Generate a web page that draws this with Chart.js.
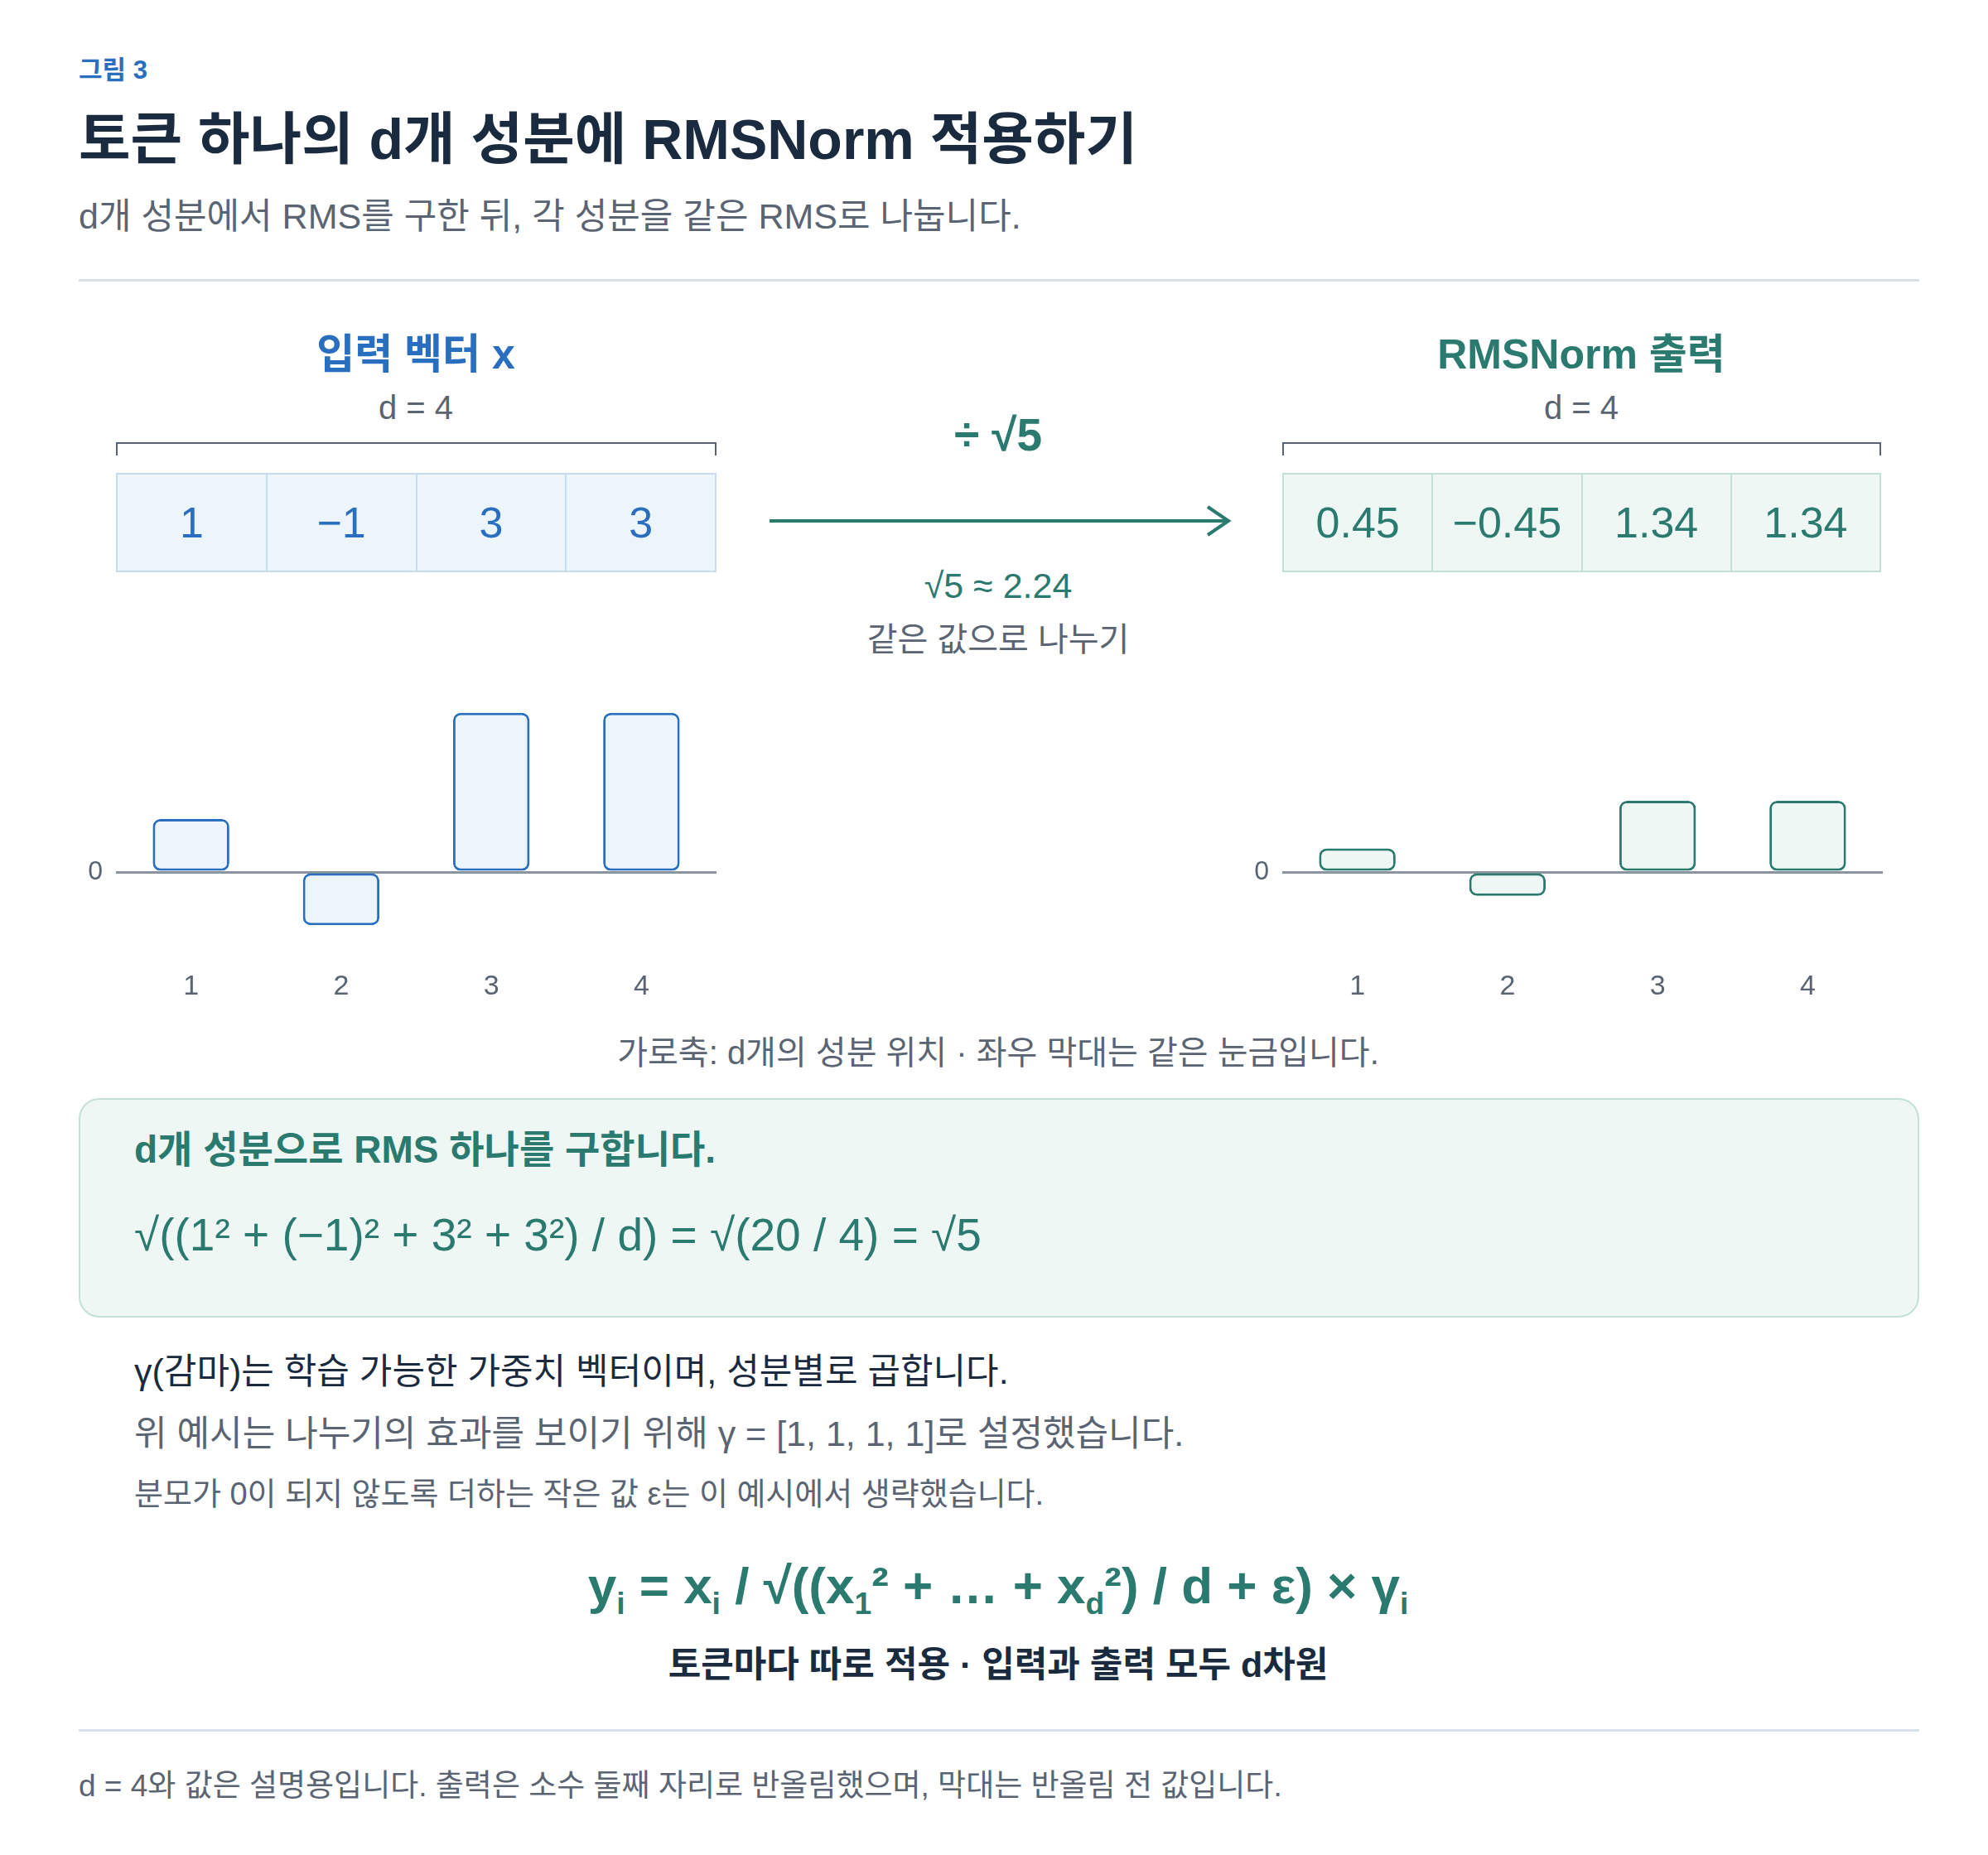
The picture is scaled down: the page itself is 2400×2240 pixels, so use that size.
<!DOCTYPE html>
<html lang="ko">
<head>
<meta charset="utf-8">
<script src="https://cdn.jsdelivr.net/npm/chart.js@4/dist/chart.umd.min.js"></script>
<style>
  body { margin: 0; background: #fff; font-family: "Liberation Sans", "Noto Sans CJK KR", sans-serif; }
  #page { position: relative; width: 2400px; height: 2240px; }
  .t { position: absolute; white-space: nowrap; line-height: 1.2; }
  .c { text-align: center; width: 1000px; }
  .hr { position: absolute; left: 95px; width: 2222px; height: 3px; background: #d8e1ea; }
  .bracket { position: absolute; height: 14px; border: 2px solid #5a6473; border-bottom: none; }
  .cells { position: absolute; height: 120px; display: flex; }
  .cells div { flex: 1; display: flex; align-items: center; justify-content: center; font-size: 52px; }
  .chartBox { position: absolute; top: 800px; width: 803px; height: 426px; }
  sub { font-size: 0.6em; vertical-align: -0.35em; }
</style>
</head>
<body>
<div id="page">
  <div class="t" style="left:95px;top:66px;font-size:31px;font-weight:bold;color:#2a6fbf">그림 3</div>
  <div class="t" style="left:95px;top:128px;font-size:68px;font-weight:bold;color:#1a2b40">토큰 하나의 d개 성분에 RMSNorm 적용하기</div>
  <div class="t" style="left:95px;top:236px;font-size:43px;color:#5a6473">d개 성분에서 RMS를 구한 뒤, 각 성분을 같은 RMS로 나눕니다.</div>
  <div class="hr" style="top:337px"></div>

  <div class="t c" style="left:2px;top:398px;font-size:50px;font-weight:bold;color:#2a6fbf">입력 벡터 x</div>
  <div class="t c" style="left:2px;top:468px;font-size:40px;color:#5a6473">d = 4</div>
  <div class="bracket" style="left:140px;top:534px;width:721px"></div>
  <div class="cells" id="inCells" style="left:140px;top:571px;width:725px"></div>

  <div class="t c" style="left:1409px;top:398px;font-size:50px;font-weight:bold;color:#2a7a6f">RMSNorm 출력</div>
  <div class="t c" style="left:1409px;top:468px;font-size:40px;color:#5a6473">d = 4</div>
  <div class="bracket" style="left:1548px;top:534px;width:719px"></div>
  <div class="cells" id="outCells" style="left:1548px;top:571px;width:723px"></div>

  <div class="t c" style="left:705px;top:492px;font-size:55px;font-weight:bold;color:#2a7a6f">÷ √5</div>
  <svg style="position:absolute;left:920px;top:600px" width="580" height="60">
    <line x1="9" y1="29" x2="562" y2="29" stroke="#2a7a6f" stroke-width="4"/>
    <polyline points="538,12 563,29 538,46" fill="none" stroke="#2a7a6f" stroke-width="4"/>
  </svg>
  <div class="t c" style="left:705px;top:682px;font-size:43px;color:#2a7a6f">√5 ≈ 2.24</div>
  <div class="t c" style="left:705px;top:748px;font-size:40px;color:#5a6473">같은 값으로 나누기</div>

  <div class="chartBox" style="left:62px"><canvas id="inChart"></canvas></div>
  <div class="chartBox" style="left:1470px"><canvas id="outChart"></canvas></div>

  <div class="t c" style="left:705px;top:1247px;font-size:40px;color:#5a6473">가로축: d개의 성분 위치 · 좌우 막대는 같은 눈금입니다.</div>

  <div style="position:absolute;left:95px;top:1326px;width:2218px;height:261px;background:#eef7f4;border:2px solid #c3e0d8;border-radius:25px"></div>
  <div class="t" style="left:162px;top:1361px;font-size:46px;font-weight:bold;color:#2a7a6f">d개 성분으로 RMS 하나를 구합니다.</div>
  <div class="t" style="left:162px;top:1458px;font-size:55px;color:#2a7a6f">√((1² + (−1)² + 3² + 3²) / d) = √(20 / 4) = √5</div>

  <div class="t" style="left:162px;top:1631px;font-size:43px;color:#1a2b40">γ(감마)는 학습 가능한 가중치 벡터이며, 성분별로 곱합니다.</div>
  <div class="t" style="left:162px;top:1706px;font-size:43px;color:#5a6473">위 예시는 나누기의 효과를 보이기 위해 γ = [1, 1, 1, 1]로 설정했습니다.</div>
  <div class="t" style="left:162px;top:1782px;font-size:38px;color:#5a6473">분모가 0이 되지 않도록 더하는 작은 값 ε는 이 예시에서 생략했습니다.</div>

  <div class="t c" style="left:705px;top:1878px;font-size:62px;font-weight:bold;color:#2a7a6f">y<sub>i</sub> = x<sub>i</sub> / √((x<sub>1</sub>² + … + x<sub>d</sub>²) / d + ε) × γ<sub>i</sub></div>
  <div class="t c" style="left:705px;top:1985px;font-size:43px;font-weight:bold;color:#1a2b40">토큰마다 따로 적용 · 입력과 출력 모두 d차원</div>
  <div class="hr" style="top:2088px"></div>
  <div class="t" style="left:95px;top:2135px;font-size:37px;color:#5a6473">d = 4와 값은 설명용입니다. 출력은 소수 둘째 자리로 반올림했으며, 막대는 반올림 전 값입니다.</div>
</div>

<script>
const positions = ["1", "2", "3", "4"];
const inputValues = [1, -1, 3, 3];
const outputValues = [0.447, -0.447, 1.342, 1.342];
const inputLabels = ["1", "−1", "3", "3"];
const outputLabels = ["0.45", "−0.45", "1.34", "1.34"];

function fillCells(id, labels, bg, border, color) {
  const box = document.getElementById(id);
  labels.forEach((txt, i) => {
    const d = document.createElement("div");
    d.textContent = txt;
    d.style.background = bg;
    d.style.color = color;
    d.style.border = "2px solid " + border;
    if (i > 0) d.style.borderLeft = "none";
    box.appendChild(d);
  });
}
fillCells("inCells", inputLabels, "#edf5fc", "#c8dcef", "#2a6fbf");
fillCells("outCells", outputLabels, "#eef7f4", "#c3e0d8", "#2a7a6f");

function makeChart(id, values, stroke, fill) {
  new Chart(document.getElementById(id), {
    type: "bar",
    data: {
      labels: positions,
      datasets: [{
        data: values,
        backgroundColor: fill,
        borderColor: stroke,
        borderWidth: 3,
        borderRadius: 9,
        borderSkipped: false,
        barPercentage: 0.51,
        categoryPercentage: 1,
      }],
    },
    options: {
      responsive: true,
      maintainAspectRatio: false,
      animation: false,
      layout: { padding: { top: 29, right: 0 } },
      plugins: { legend: { display: false }, tooltip: { enabled: false } },
      scales: {
        x: {
          grid: { display: false },
          border: { display: false },
          ticks: { color: "#5a6473", font: { size: 34 }, padding: 14 },
        },
        y: {
          min: -1.5,
          max: 3.4,
          afterBuildTicks: (axis) => { axis.ticks = [{ value: 0 }]; },
          afterFit: (axis) => { axis.width = 78; },
          border: { display: false },
          grid: { color: "#8a949f", lineWidth: 3, drawTicks: false },
          ticks: { color: "#5a6473", font: { size: 32 }, padding: 16 },
        },
      },
    },
  });
}
makeChart("inChart", inputValues, "#2a6fbf", "#edf5fc");
makeChart("outChart", outputValues, "#2a7a6f", "#eef7f4");
</script>
</body>
</html>
